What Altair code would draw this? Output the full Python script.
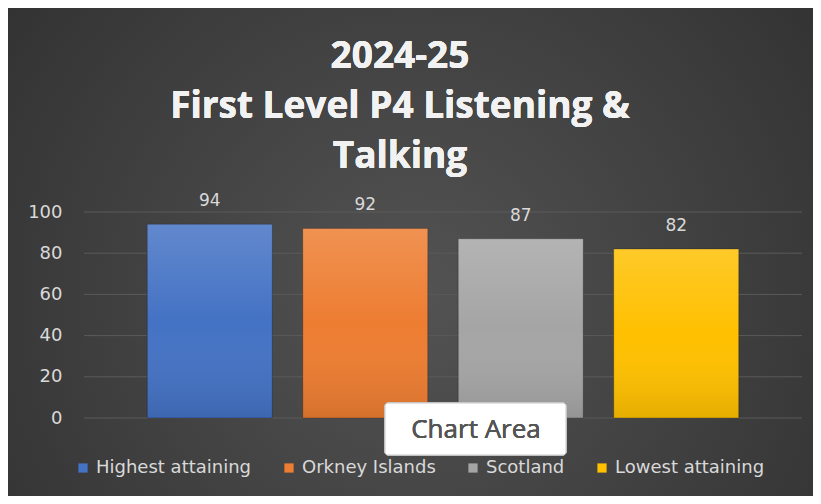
import altair as alt
import pandas as pd

categories = ["Highest attaining", "Orkney Islands", "Scotland", "Lowest attaining"]
values = [94, 92, 87, 82]
colors = ["#4472c4", "#ed7d31", "#a5a5a5", "#ffc000"]
y_ticks = [0, 20, 40, 60, 80, 100]
title_lines = ["2024-25", "First Level P4 Listening &", "Talking"]

df = pd.DataFrame({"cat": categories, "val": values})

W, H = 718, 206
PL, PT = 76, 204
TOTAL_W, TOTAL_H = 805, 488
PR, PB = TOTAL_W - PL - W, TOTAL_H - PT - H

bg_grad = {
    "gradient": "radial",
    "x1": 0.5, "y1": 0.55, "r1": 0,
    "x2": 0.5, "y2": 0.55, "r2": 0.75,
    "stops": [{"offset": 0, "color": "#535353"}, {"offset": 1, "color": "#2b2b2b"}],
}
bar_overlay = {
    "gradient": "linear", "x1": 0, "y1": 0, "x2": 0, "y2": 1,
    "stops": [
        {"offset": 0, "color": "rgba(255,255,255,0.16)"},
        {"offset": 0.5, "color": "rgba(255,255,255,0.0)"},
        {"offset": 1, "color": "rgba(0,0,0,0.10)"},
    ],
}

xscale = alt.Scale(domain=categories, paddingInner=0.196, paddingOuter=0.407)
yscale = alt.Scale(domain=[0, 100])

background = alt.Chart(df).mark_rect(fill=bg_grad, clip=False).encode(
    x=alt.value(-PL - 8), x2=alt.value(W + PR + 16), y=alt.value(-PT - 8), y2=alt.value(H + PB + 16)
)

grid = alt.Chart(pd.DataFrame({"t": y_ticks})).mark_rule(color="#5a5a5a", strokeWidth=1).encode(
    y=alt.Y("t:Q", scale=yscale, axis=alt.Axis(
        values=y_ticks, title=None, domain=False, ticks=False, grid=False, zindex=2,
        labelColor="#d9d9d9", labelFontSize=18, labelFont="DejaVu Sans", labelPadding=22,
    ))
)

bars = alt.Chart(df).mark_bar(stroke="rgba(0,0,0,0.25)", strokeWidth=1).encode(
    x=alt.X("cat:N", scale=xscale, axis=None, sort=categories),
    y=alt.Y("val:Q", scale=yscale),
    color=alt.Color("cat:N", scale=alt.Scale(domain=categories, range=colors), sort=categories,
                    legend=alt.Legend(title=None, orient="none", legendX=-10, legendY=H + 41,
                                      direction="horizontal", symbolType="square", symbolSize=85,
                                      symbolStrokeWidth=0, labelFontSize=18, labelFont="DejaVu Sans",
                                      labelColor="#d9d9d9", columnPadding=28, labelOffset=4)),
)

overlay = alt.Chart(df).mark_bar(fill=bar_overlay).encode(
    x=alt.X("cat:N", scale=xscale, sort=categories),
    y=alt.Y("val:Q", scale=yscale),
)

labels = alt.Chart(df).mark_text(color="#d9d9d9", fontSize=17, font="DejaVu Sans", baseline="alphabetic", dy=-18).encode(
    x=alt.X("cat:N", scale=xscale, sort=categories),
    y=alt.Y("val:Q", scale=yscale),
    text=alt.Text("val:Q"),
)

title = alt.Chart(df).mark_text(
    text=title_lines, fontSize=37, font="Open Sans", fontWeight="bold", color="#f2f2f2",
    lineHeight=50, align="center", baseline="alphabetic", clip=False,
).encode(x=alt.value(316), y=alt.value(-144))

tip_box = alt.Chart(df).mark_rect(fill="#ffffff", stroke="#c8c8c8", cornerRadius=3, clip=False).encode(
    x=alt.value(301), x2=alt.value(482), y=alt.value(191), y2=alt.value(243)
)
tip_text = alt.Chart(df).mark_text(
    text="Chart Area", fontSize=26, font="Open Sans", color="#555555", align="center", baseline="middle"
).encode(x=alt.value(392), y=alt.value(218))

chart = alt.layer(background, grid, bars, overlay, labels, title, tip_box, tip_text).properties(
    width=W, height=H,
    autosize=alt.AutoSizeParams(type="none"),
    padding={"left": PL, "top": PT, "right": PR, "bottom": PB},
).configure_view(stroke=None).configure(background="#ffffff")

chart.save("out.html", embed_options={"renderer": "svg", "actions": False})
